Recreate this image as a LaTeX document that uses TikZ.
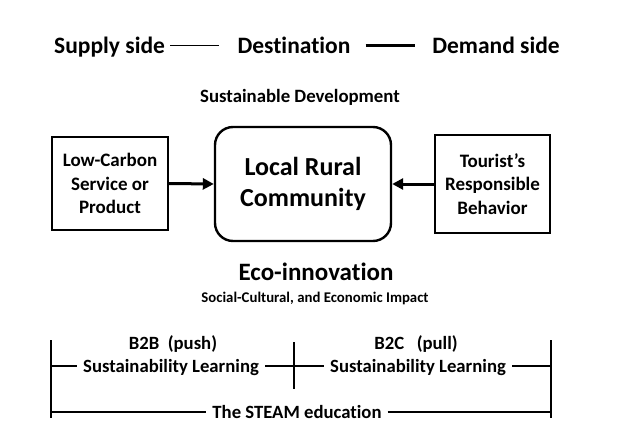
\documentclass[tikz,border=0pt]{standalone}
\usepackage{fontspec}
\setmainfont{Carlito}[Ligatures=NoCommon]
\usetikzlibrary{arrows.meta}
\begin{document}
\begin{tikzpicture}[x=1pt,y=-1pt,
  txt/.style={inner sep=0pt,font=\bfseries},
  toptxt/.style={inner sep=0pt,text height=15pt,text depth=0pt,font=\bfseries\fontsize{23.5}{28}\selectfont},
  lowtxt/.style={inner sep=0pt,text height=12pt,text depth=0pt,font=\bfseries\fontsize{18.7}{22}\selectfont},
  boxtxt/.style={draw,line width=2pt,align=center,font=\bfseries\fontsize{19}{23.5}\selectfont,inner sep=0pt},
  thin/.style={line width=1.3pt},
  thick3/.style={line width=2.8pt},
  arr/.style={line width=3pt,-{Triangle[length=11pt,width=11pt]}}]
\useasboundingbox (0,0) rectangle (627,447);
% top line
\node[toptxt,anchor=base west] (supply) at (54,53) {Supply side};
\node[toptxt,anchor=base] (dest) at (294,53) {Destination};
\node[toptxt,anchor=base east] (demand) at (560,53) {Demand side};
\draw[thin,shorten <=5pt,shorten >=18pt] (supply.east) -- (dest.west);
\draw[line width=2.2pt,shorten <=15pt,shorten >=17pt] (dest.east) -- (demand.west);
\node[txt,font=\bfseries\fontsize{18.8}{22}\selectfont] (sd) at (300,97) {Sustainable Development};
% boxes
\node[boxtxt,minimum width=116pt,minimum height=93pt] (left) at (110,183.5) {Low-Carbon\\Service or\\Product};
\node[boxtxt,rounded corners=18pt,line width=2.4pt,minimum width=176pt,minimum height=114pt,font=\bfseries\fontsize{26}{30.5}\selectfont] (mid) at (303,184) {Local Rural\\Community};
\node[boxtxt,minimum width=115pt,minimum height=98pt] (right) at (492.5,184) {Tourist’s\\Responsible\\Behavior};
\draw[arr] (left.east) -- (mid.west);
\draw[arr] (right.west) -- (mid.east);
% eco
\node[txt,font=\bfseries\fontsize{25}{30}\selectfont] (eco) at (316,272) {Eco-innovation};
\node[txt,font=\bfseries\fontsize{14.8}{17}\selectfont] (impact) at (315,298) {Social-Cultural, and Economic Impact};
% bottom
\coordinate (LT) at (51,340);
\coordinate (LB) at (51,418);
\coordinate (RT) at (551,340);
\coordinate (RB) at (551,418);
\coordinate (MT) at (294,342);
\coordinate (MB) at (294,389);
\coordinate (LM) at (51,366);
\coordinate (RM) at (551,366);
\coordinate (LS) at (51,412);
\coordinate (RS) at (551,412);
\draw[thick3] (LT) -- (LB);
\draw[thick3] (RT) -- (RB);
\draw[thick3] (MT) -- (MB);
\node[lowtxt,text depth=4pt] (b2b) at (173,345) {B2B\ \ (push)};
\node[lowtxt] (sl1) at (171,366) {Sustainability Learning};
\node[lowtxt,text depth=4pt] (b2c) at (416,345) {B2C\ \ \ (pull)};
\node[lowtxt] (sl2) at (418,366) {Sustainability Learning};
\node[lowtxt] (steam) at (297,412) {The STEAM education};
\draw[thin,shorten >=6pt] (LM) -- (sl1.west);
\draw[thin,shorten <=6pt,shorten >=6pt] (sl1.east) -- (sl2.west);
\draw[thin,shorten <=6pt] (sl2.east) -- (RM);
\draw[thin,shorten >=6pt] (LS) -- (steam.west);
\draw[thin,shorten <=6pt] (steam.east) -- (RS);
\end{tikzpicture}
\end{document}
